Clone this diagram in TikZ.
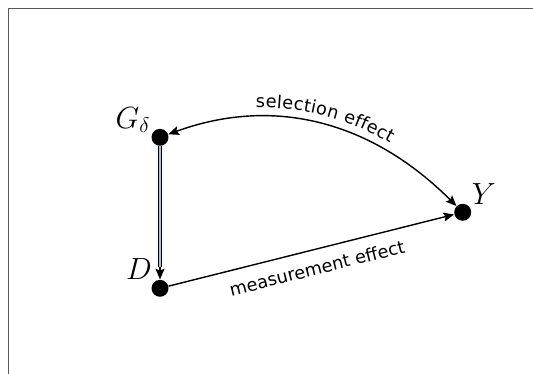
\documentclass[tikz,border=0pt]{standalone}
\usepackage{fontspec}
\newfontfamily\dejavu{DejaVu Sans}
\usetikzlibrary{arrows.meta,decorations.text}
\definecolor{framegray}{HTML}{5A5A5A}
\definecolor{shaftblue}{HTML}{A9C0D6}
\begin{document}
\begin{tikzpicture}[x=0.565pt,y=0.565pt,
  dot/.style={circle,fill=black,inner sep=0pt,minimum size=9.6pt},
  vlabel/.style={font=\LARGE,inner sep=0pt},
  elabel/.style={font=\dejavu,inner sep=0pt},
  edge/.style={line width=0.8pt,-{Stealth[length=6pt,width=5pt,inset=1pt]}},
  biedge/.style={line width=0.8pt,{Stealth[length=6pt,width=5pt,inset=1pt]}-{Stealth[length=6pt,width=5pt,inset=1pt]}}]
\useasboundingbox (0,0) rectangle (533,374);
\draw[framegray,line width=0.75pt] (8.3,0) -- (8.3,365.7) -- (533,365.7);
\node[dot] (G) at (160,236.7) {};
\node[dot] (D) at (160,85.7) {};
\node[dot] (Y) at (462.7,161.7) {};
\node[vlabel] (Gl) at (133,254) {$G_\delta$};
\node[vlabel] (Dl) at (139,105) {$D$};
\node[vlabel] (Yl) at (484,180) {$Y$};
% double shaft with arrow
\draw[edge] (G) -- (D);
\draw[line width=0.6pt,double=shaftblue,double distance=1.5pt,shorten >=7pt] (G) -- (D);
% measurement effect
\draw[edge] (D) -- (Y);
\node[elabel,rotate=14.1] (ml) at (317,106) {measurement effect};
% selection effect
\draw[biedge] (G) to[out=20,in=135] (Y);
\path[decorate,decoration={text along path,text={|\dejavu|selection effect},text align=center,raise=5pt}] (G) to[out=20,in=135] (Y);
\end{tikzpicture}
\end{document}
